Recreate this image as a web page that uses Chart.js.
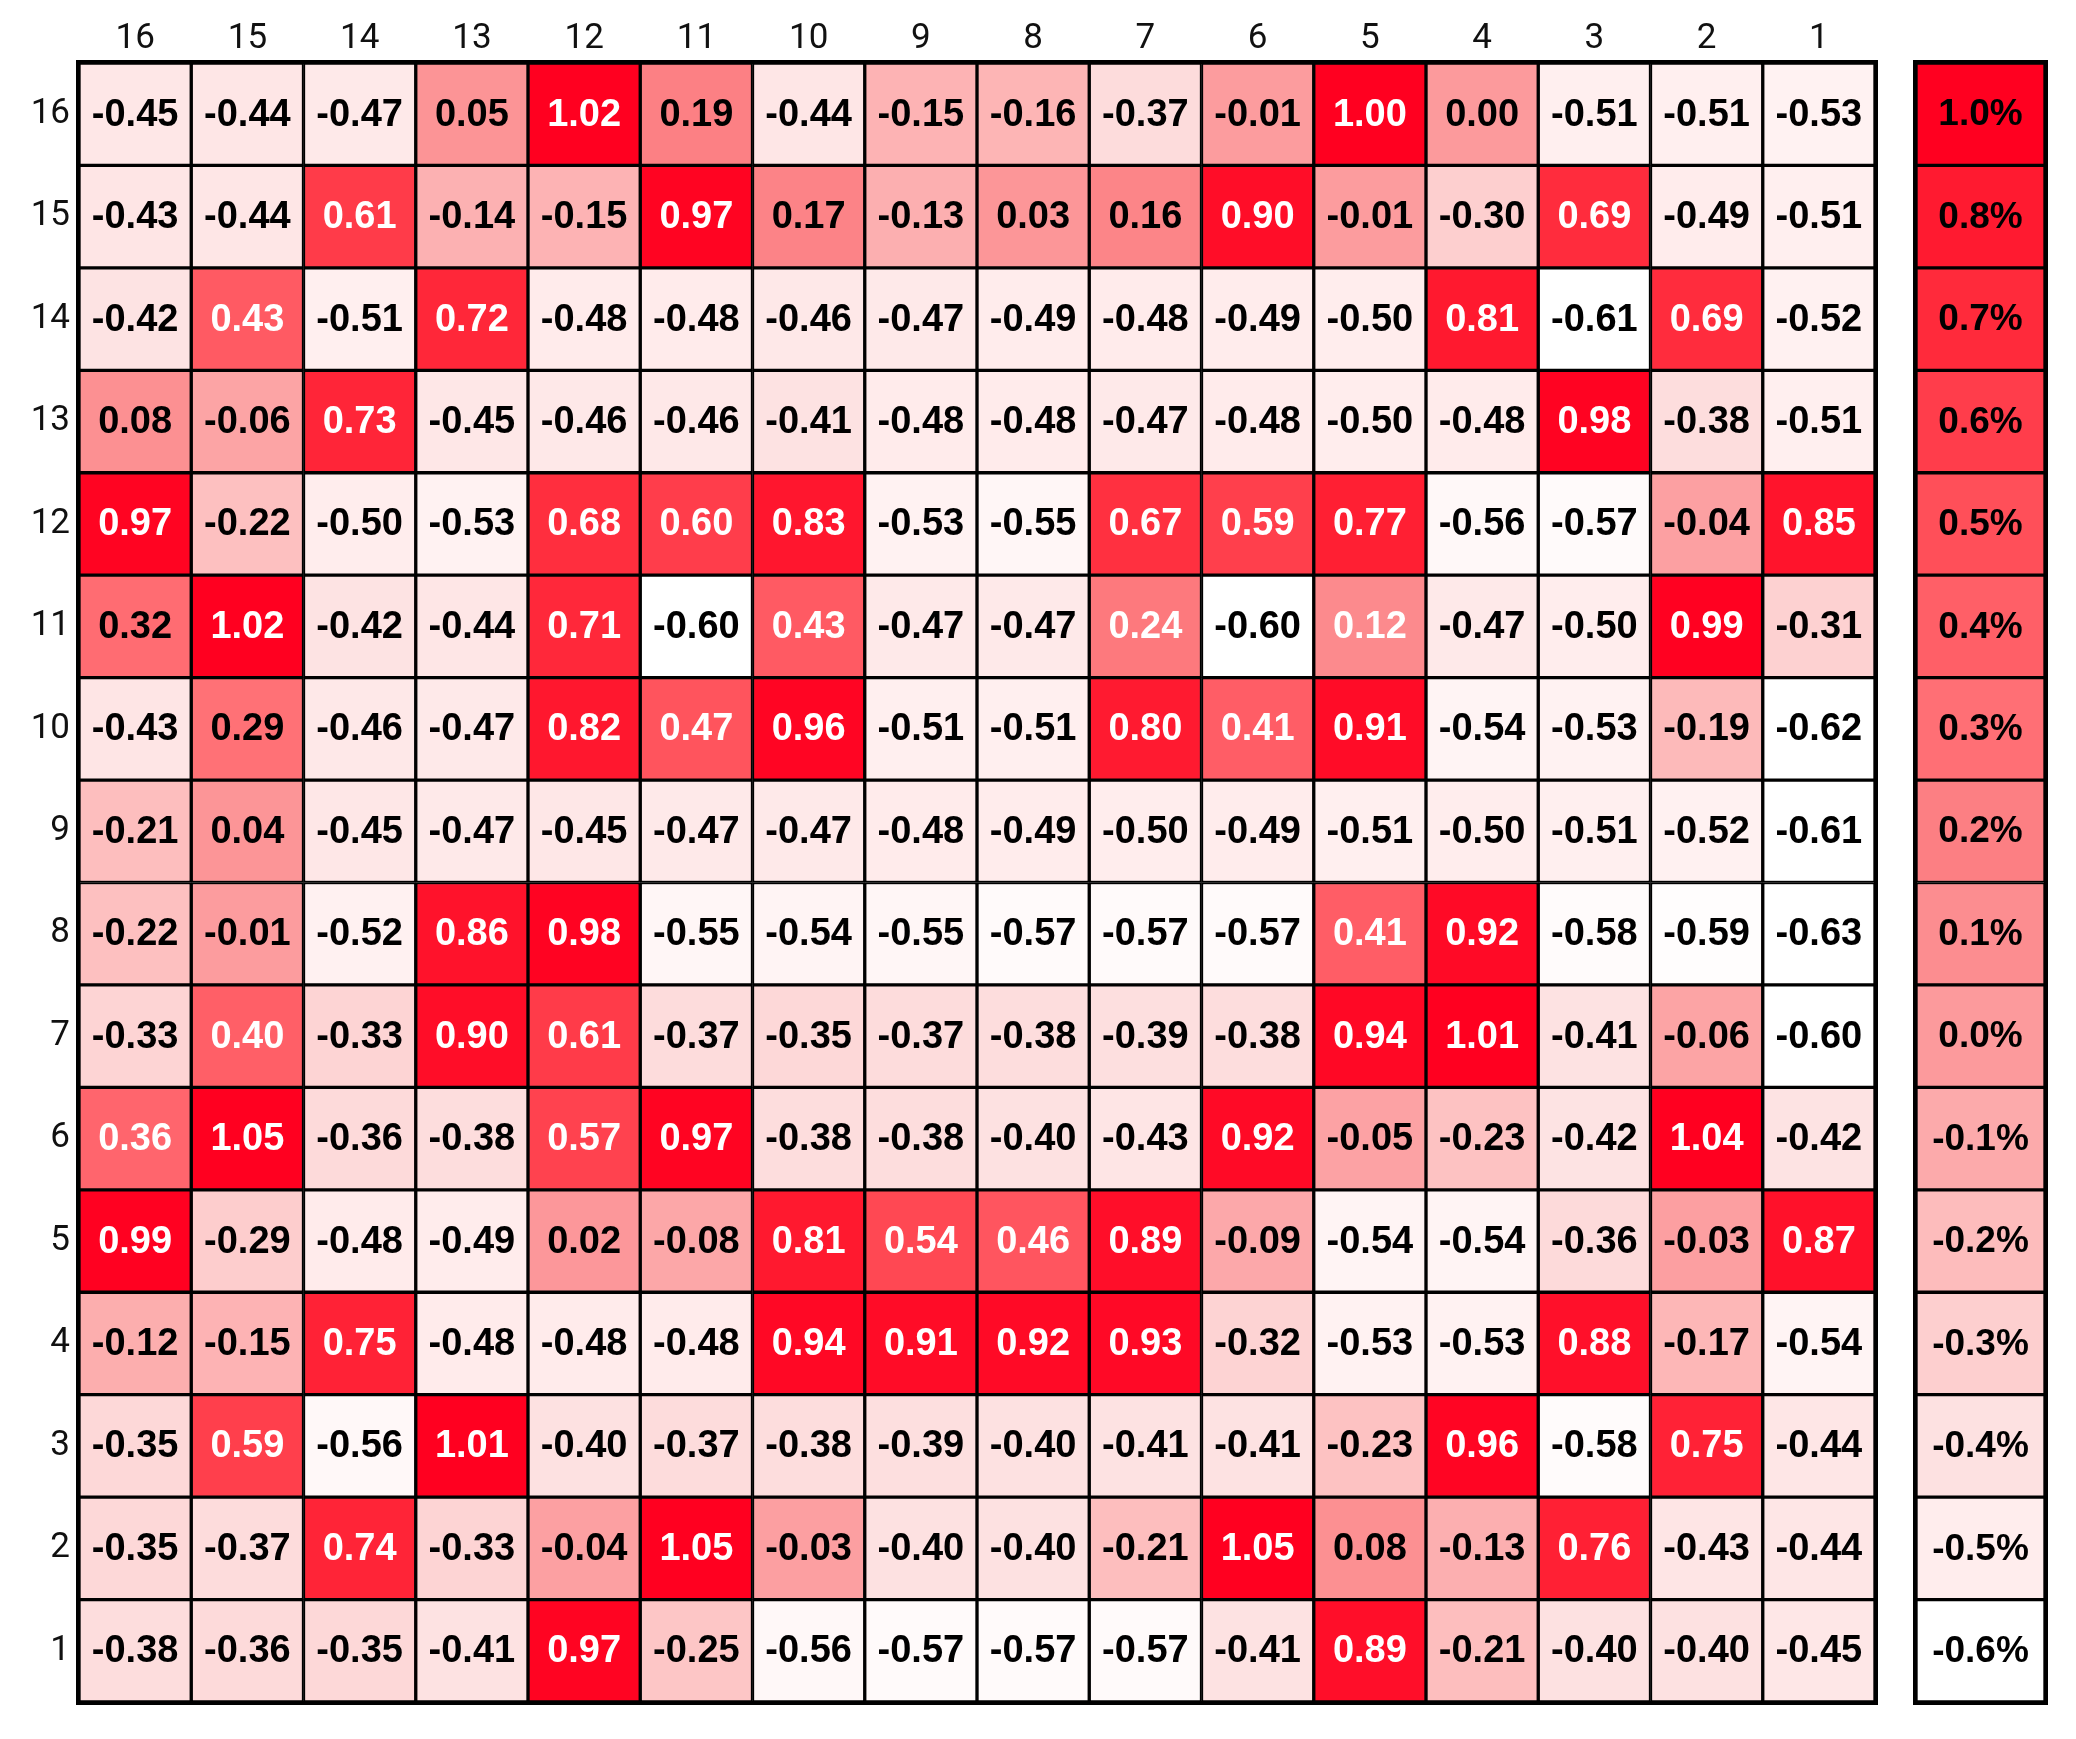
<!DOCTYPE html>
<html>
<head>
<meta charset="utf-8">
<script src="https://cdn.jsdelivr.net/npm/chart.js@4.4.0/dist/chart.umd.min.js"></script>
<style>
  html, body { margin: 0; padding: 0; background: #fff; }
  #wrap { position: relative; width: 2076px; height: 1739px; }
  #heat { position: absolute; left: 0; top: 0; }
  #bar { position: absolute; left: 1900px; top: 0; }
</style>
</head>
<body>
<div id="wrap">
  <canvas id="heat" width="1890" height="1739"></canvas>
  <canvas id="bar" width="176" height="1739"></canvas>
</div>
<script>
// column / row labels
const colLabels = ['16', '15', '14', '13', '12', '11', '10', '9', '8', '7', '6', '5', '4', '3', '2', '1'];
const rowLabels = [16, 15, 14, 13, 12, 11, 10, 9, 8, 7, 6, 5, 4, 3, 2, 1];

// one array per row, left to right = column 16 .. 1
const r16 = [-0.45, -0.44, -0.47, 0.05, 1.02, 0.19, -0.44, -0.15, -0.16, -0.37, -0.01, 1.00, 0.00, -0.51, -0.51, -0.53];
const r15 = [-0.43, -0.44, 0.61, -0.14, -0.15, 0.97, 0.17, -0.13, 0.03, 0.16, 0.90, -0.01, -0.30, 0.69, -0.49, -0.51];
const r14 = [-0.42, 0.43, -0.51, 0.72, -0.48, -0.48, -0.46, -0.47, -0.49, -0.48, -0.49, -0.50, 0.81, -0.61, 0.69, -0.52];
const r13 = [0.08, -0.06, 0.73, -0.45, -0.46, -0.46, -0.41, -0.48, -0.48, -0.47, -0.48, -0.50, -0.48, 0.98, -0.38, -0.51];
const r12 = [0.97, -0.22, -0.50, -0.53, 0.68, 0.60, 0.83, -0.53, -0.55, 0.67, 0.59, 0.77, -0.56, -0.57, -0.04, 0.85];
const r11 = [0.32, 1.02, -0.42, -0.44, 0.71, -0.60, 0.43, -0.47, -0.47, 0.24, -0.60, 0.12, -0.47, -0.50, 0.99, -0.31];
const r10 = [-0.43, 0.29, -0.46, -0.47, 0.82, 0.47, 0.96, -0.51, -0.51, 0.80, 0.41, 0.91, -0.54, -0.53, -0.19, -0.62];
const r9  = [-0.21, 0.04, -0.45, -0.47, -0.45, -0.47, -0.47, -0.48, -0.49, -0.50, -0.49, -0.51, -0.50, -0.51, -0.52, -0.61];
const r8  = [-0.22, -0.01, -0.52, 0.86, 0.98, -0.55, -0.54, -0.55, -0.57, -0.57, -0.57, 0.41, 0.92, -0.58, -0.59, -0.63];
const r7  = [-0.33, 0.40, -0.33, 0.90, 0.61, -0.37, -0.35, -0.37, -0.38, -0.39, -0.38, 0.94, 1.01, -0.41, -0.06, -0.60];
const r6  = [0.36, 1.05, -0.36, -0.38, 0.57, 0.97, -0.38, -0.38, -0.40, -0.43, 0.92, -0.05, -0.23, -0.42, 1.04, -0.42];
const r5  = [0.99, -0.29, -0.48, -0.49, 0.02, -0.08, 0.81, 0.54, 0.46, 0.89, -0.09, -0.54, -0.54, -0.36, -0.03, 0.87];
const r4  = [-0.12, -0.15, 0.75, -0.48, -0.48, -0.48, 0.94, 0.91, 0.92, 0.93, -0.32, -0.53, -0.53, 0.88, -0.17, -0.54];
const r3  = [-0.35, 0.59, -0.56, 1.01, -0.40, -0.37, -0.38, -0.39, -0.40, -0.41, -0.41, -0.23, 0.96, -0.58, 0.75, -0.44];
const r2  = [-0.35, -0.37, 0.74, -0.33, -0.04, 1.05, -0.03, -0.40, -0.40, -0.21, 1.05, 0.08, -0.13, 0.76, -0.43, -0.44];
const r1  = [-0.38, -0.36, -0.35, -0.41, 0.97, -0.25, -0.56, -0.57, -0.57, -0.57, -0.41, 0.89, -0.21, -0.40, -0.40, -0.45];
const grid = [r16, r15, r14, r13, r12, r11, r10, r9, r8, r7, r6, r5, r4, r3, r2, r1];

// colour key (top to bottom)
const keyValues = [1.0, 0.8, 0.7, 0.6, 0.5, 0.4, 0.3, 0.2, 0.1, 0.0, -0.1, -0.2, -0.3, -0.4, -0.5, -0.6];
const keyLabels = ['1.0%', '0.8%', '0.7%', '0.6%', '0.5%', '0.4%', '0.3%', '0.2%', '0.1%', '0.0%',
                   '-0.1%', '-0.2%', '-0.3%', '-0.4%', '-0.5%', '-0.6%'];
const keyColors = ['#ff0020', '#ff1a30', '#ff2a3b', '#ff3d4b', '#ff4f59', '#ff5f67', '#ff6f75', '#fc7f83',
                   '#fc8d90', '#fc9a9c', '#fcaaab', '#fdbcbc', '#fdcfcf', '#fde1e1', '#ffeded', '#ffffff'];

// a couple of cells carry white text although they are light
const whiteText = [[11, '7'], [11, '5']];

function hexRgb(h) {
  return [parseInt(h.slice(1, 3), 16), parseInt(h.slice(3, 5), 16), parseInt(h.slice(5, 7), 16)];
}

function colorFor(v) {
  if (v >= keyValues[0]) return keyColors[0];
  if (v <= keyValues[keyValues.length - 1]) return keyColors[keyColors.length - 1];
  for (let i = 0; i < keyValues.length - 1; i++) {
    const hi = keyValues[i], lo = keyValues[i + 1];
    if (v <= hi && v >= lo) {
      const t = (v - lo) / (hi - lo);
      const a = hexRgb(keyColors[i + 1]), b = hexRgb(keyColors[i]);
      const c = a.map((x, k) => Math.round(x + (b[k] - x) * t));
      return `rgb(${c[0]},${c[1]},${c[2]})`;
    }
  }
  return '#fff';
}

// text inside each cell + thick outer frame
const cellText = {
  id: 'cellText',
  afterDatasetsDraw(chart, args, opts) {
    const ctx = chart.ctx;
    ctx.save();
    ctx.font = opts.font;
    ctx.textAlign = 'center';
    ctx.textBaseline = 'middle';
    chart.data.datasets.forEach((ds, di) => {
      chart.getDatasetMeta(di).data.forEach((el, i) => {
        const v = ds.values[i];
        const p = el.getCenterPoint();
        ctx.fillStyle = opts.color(v, ds.row, chart.data.labels[i]);
        ctx.fillText(opts.format(v), p.x, p.y + 1);
      });
    });
    const a = chart.chartArea;
    ctx.lineWidth = 4;
    ctx.strokeStyle = '#000';
    ctx.strokeRect(a.left - 1, a.top - 1, a.right - a.left + 2, a.bottom - a.top + 2);
    ctx.restore();
  }
};

const cellDefaults = {
  barPercentage: 1,
  categoryPercentage: 1,
  grouped: false,
  borderWidth: 2,
  borderColor: '#000',
  borderSkipped: false
};

// main heatmap: one floating-bar dataset per row
const heatSets = rowLabels.map((row, ri) => Object.assign({
  row: row,
  values: grid[ri],
  data: colLabels.map(() => [row - 0.5, row + 0.5]),
  backgroundColor: grid[ri].map(colorFor)
}, cellDefaults));

new Chart(document.getElementById('heat'), {
  type: 'bar',
  data: { labels: colLabels, datasets: heatSets },
  options: {
    responsive: false,
    animation: false,
    layout: { padding: { left: 0, right: 15, top: 0, bottom: 37 } },
    scales: {
      x: {
        position: 'top',
        grid: { display: false, drawTicks: false },
        border: { display: false },
        ticks: { padding: 3, color: '#111', font: { family: 'Roboto', size: 35 } },
        afterFit: s => { s.height = 63; }
      },
      y: {
        min: 0.5,
        max: 16.5,
        grid: { display: false, drawTicks: false },
        border: { display: false },
        afterBuildTicks: s => { s.ticks = rowLabels.map(v => ({ value: v })); },
        ticks: { padding: 9, color: '#111', font: { family: 'Roboto', size: 35 } },
        afterFit: s => { s.width = 79; }
      }
    },
    plugins: {
      legend: { display: false },
      tooltip: { enabled: false },
      cellText: {
        font: 'bold 38px "Liberation Sans", Arial, sans-serif',
        format: v => v.toFixed(2),
        color: (v, row, col) => {
          if (whiteText.some(w => w[0] === row && w[1] === col)) return '#fff';
          return v > 0.35 ? '#fff' : '#000';
        }
      }
    }
  },
  plugins: [cellText]
});

// colour key on the right
const keySets = keyValues.map((kv, i) => Object.assign({
  row: rowLabels[i],
  values: [kv],
  data: [[rowLabels[i] - 0.5, rowLabels[i] + 0.5]],
  backgroundColor: [keyColors[i]]
}, cellDefaults));

new Chart(document.getElementById('bar'), {
  type: 'bar',
  data: { labels: ['key'], datasets: keySets },
  options: {
    responsive: false,
    animation: false,
    layout: { padding: { left: 16, right: 31, top: 63, bottom: 37 } },
    scales: {
      x: { display: false },
      y: { display: false, min: 0.5, max: 16.5 }
    },
    plugins: {
      legend: { display: false },
      tooltip: { enabled: false },
      cellText: {
        font: 'bold 37px "Liberation Sans", Arial, sans-serif',
        format: v => keyLabels[keyValues.indexOf(v)],
        color: () => '#000'
      }
    }
  },
  plugins: [cellText]
});
</script>
</body>
</html>
